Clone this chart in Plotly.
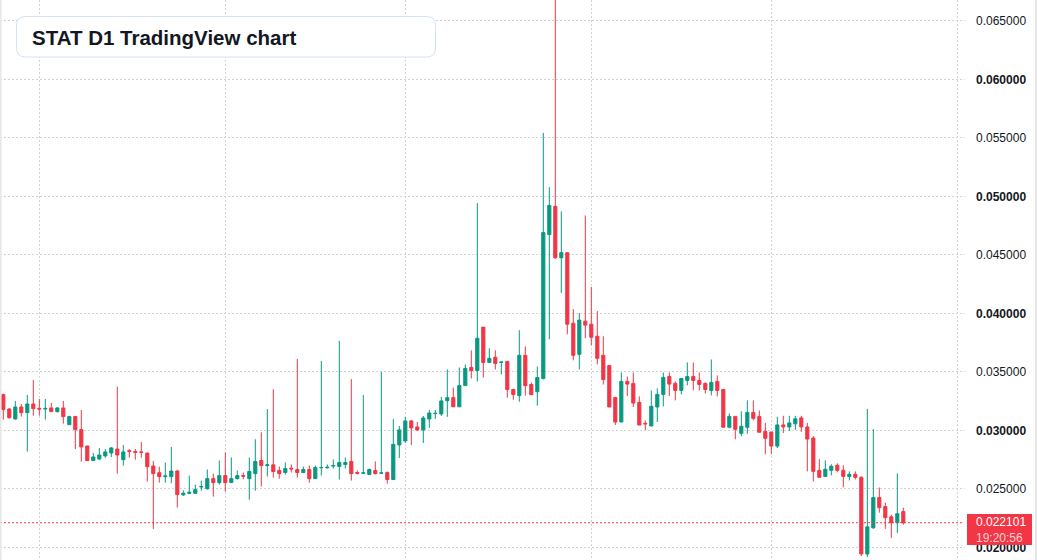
import pandas as pd
import plotly.graph_objects as go

# ---------------- data (price values) ----------------
start_date = "2024-07-26"
n_days = 151
dates = pd.date_range(start_date, periods=n_days, freq="D")

opens = [
    0.03305, 0.03182, 0.03097, 0.03199, 0.03151, 0.03225, 0.03188, 0.03182, 0.03191, 0.03160,
    0.03191, 0.03048, 0.03117, 0.03006, 0.02866, 0.02741, 0.02755, 0.02781, 0.02806, 0.02840,
    0.02749, 0.02826, 0.02818, 0.02815, 0.02806, 0.02695, 0.02638, 0.02604, 0.02604, 0.02652,
    0.02448, 0.02461, 0.02461, 0.02516, 0.02501, 0.02587, 0.02553, 0.02613, 0.02553, 0.02587,
    0.02613, 0.02587, 0.02630, 0.02742, 0.02699, 0.02705, 0.02656, 0.02639, 0.02676, 0.02665,
    0.02639, 0.02665, 0.02587, 0.02680, 0.02680, 0.02694, 0.02691, 0.02708, 0.02734, 0.02639,
    0.02633, 0.02622, 0.02656, 0.02633, 0.02639, 0.02579, 0.02875, 0.02909, 0.03080, 0.03028,
    0.03003, 0.03097, 0.03143, 0.03140, 0.03253, 0.03279, 0.03201, 0.03382, 0.03537, 0.03511,
    0.03882, 0.03580, 0.03624, 0.03580, 0.03589, 0.03348, 0.03296, 0.03641, 0.03391, 0.03330,
    0.03443, 0.04673, 0.04914, 0.04475, 0.04518, 0.03916, 0.03649, 0.03933, 0.03907, 0.03804,
    0.03641, 0.03554, 0.03281, 0.03071, 0.03418, 0.03401, 0.03239, 0.03060, 0.03037, 0.03199,
    0.03307, 0.03460, 0.03401, 0.03341, 0.03426, 0.03460, 0.03426, 0.03401, 0.03341, 0.03418,
    0.03349, 0.03026, 0.03119, 0.02974, 0.03026, 0.03153, 0.03119, 0.02991, 0.02986, 0.02865,
    0.03046, 0.03029, 0.03055, 0.03106, 0.03029, 0.02934, 0.02658, 0.02606, 0.02658, 0.02701,
    0.02658, 0.02606, 0.02624, 0.02598, 0.01943, 0.02167, 0.02425, 0.02348, 0.02261, 0.02210,
    0.02305,
]
highs = [
    0.03313, 0.03191, 0.03251, 0.03225, 0.03302, 0.03430, 0.03268, 0.03268, 0.03234, 0.03199,
    0.03251, 0.03125, 0.03125, 0.03174, 0.02866, 0.02806, 0.02849, 0.02840, 0.02858, 0.03373,
    0.02875, 0.02840, 0.02840, 0.02900, 0.02806, 0.02738, 0.02689, 0.02724, 0.02858, 0.02661,
    0.02487, 0.02613, 0.02536, 0.02570, 0.02665, 0.02630, 0.02742, 0.02811, 0.02768, 0.02656,
    0.02639, 0.02768, 0.02923, 0.02983, 0.03181, 0.03352, 0.02691, 0.02725, 0.02708, 0.03610,
    0.02691, 0.02699, 0.02699, 0.03593, 0.02708, 0.02751, 0.03765, 0.02768, 0.03438, 0.02656,
    0.03301, 0.02673, 0.02734, 0.03499, 0.02648, 0.03095, 0.03037, 0.03114, 0.03088, 0.03071,
    0.03123, 0.03174, 0.03174, 0.03285, 0.03520, 0.03365, 0.03537, 0.03563, 0.03684, 0.04943,
    0.03882, 0.03701, 0.03684, 0.03589, 0.03589, 0.03356, 0.03856, 0.03718, 0.03408, 0.03546,
    0.05542, 0.05077, 0.06800, 0.04871, 0.04518, 0.04036, 0.04002, 0.04836, 0.04226, 0.04019,
    0.03804, 0.03554, 0.03281, 0.03494, 0.03460, 0.03494, 0.03290, 0.03085, 0.03341, 0.03358,
    0.03494, 0.03494, 0.03418, 0.03443, 0.03580, 0.03580, 0.03494, 0.03409, 0.03605, 0.03469,
    0.03349, 0.03145, 0.03119, 0.03162, 0.03256, 0.03256, 0.03170, 0.03063, 0.02986, 0.03115,
    0.03124, 0.03124, 0.03124, 0.03124, 0.03063, 0.02951, 0.02753, 0.02744, 0.02710, 0.02718,
    0.02701, 0.02649, 0.02649, 0.02606, 0.03184, 0.03011, 0.02511, 0.02382, 0.02279, 0.02632,
    0.02339,
]
lows = [
    0.03091, 0.03100, 0.03091, 0.03117, 0.02818, 0.03125, 0.03125, 0.03091, 0.03158, 0.03151,
    0.03057, 0.03048, 0.02840, 0.02732, 0.02741, 0.02741, 0.02749, 0.02766, 0.02772, 0.02630,
    0.02698, 0.02766, 0.02749, 0.02766, 0.02561, 0.02157, 0.02553, 0.02553, 0.02547, 0.02339,
    0.02440, 0.02453, 0.02461, 0.02484, 0.02493, 0.02433, 0.02536, 0.02476, 0.02553, 0.02579,
    0.02582, 0.02407, 0.02484, 0.02519, 0.02605, 0.02596, 0.02587, 0.02622, 0.02639, 0.02596,
    0.02639, 0.02553, 0.02587, 0.02613, 0.02673, 0.02673, 0.02579, 0.02673, 0.02570, 0.02622,
    0.02630, 0.02622, 0.02622, 0.02630, 0.02544, 0.02579, 0.02764, 0.02892, 0.02875, 0.02994,
    0.02892, 0.03020, 0.03097, 0.03123, 0.03115, 0.03201, 0.03201, 0.03382, 0.03443, 0.03417,
    0.03451, 0.03580, 0.03520, 0.03477, 0.03279, 0.03261, 0.03244, 0.03296, 0.03305, 0.03210,
    0.03434, 0.03778, 0.04466, 0.04174, 0.03821, 0.03598, 0.03520, 0.03787, 0.03727, 0.03563,
    0.03391, 0.03199, 0.03045, 0.03071, 0.03293, 0.03199, 0.03045, 0.03003, 0.03037, 0.03071,
    0.03205, 0.03293, 0.03256, 0.03307, 0.03384, 0.03341, 0.03341, 0.03315, 0.03298, 0.03290,
    0.03026, 0.03017, 0.02923, 0.02949, 0.02970, 0.03085, 0.02983, 0.02796, 0.02796, 0.02848,
    0.02977, 0.02994, 0.03003, 0.02986, 0.02649, 0.02563, 0.02598, 0.02606, 0.02615, 0.02641,
    0.02512, 0.02572, 0.02580, 0.01925, 0.01917, 0.02158, 0.02296, 0.02158, 0.02080, 0.02124,
    0.02193,
]
closes = [
    0.03177, 0.03108, 0.03199, 0.03151, 0.03225, 0.03185, 0.03182, 0.03187, 0.03160, 0.03191,
    0.03117, 0.03117, 0.03006, 0.02858, 0.02741, 0.02772, 0.02789, 0.02815, 0.02849, 0.02789,
    0.02815, 0.02820, 0.02812, 0.02812, 0.02689, 0.02630, 0.02604, 0.02610, 0.02652, 0.02450,
    0.02462, 0.02470, 0.02493, 0.02519, 0.02587, 0.02553, 0.02613, 0.02553, 0.02587, 0.02613,
    0.02608, 0.02648, 0.02734, 0.02699, 0.02705, 0.02648, 0.02630, 0.02673, 0.02670, 0.02639,
    0.02665, 0.02587, 0.02682, 0.02682, 0.02684, 0.02699, 0.02725, 0.02725, 0.02630, 0.02633,
    0.02636, 0.02665, 0.02630, 0.02636, 0.02579, 0.02880, 0.03003, 0.03080, 0.03020, 0.03003,
    0.03105, 0.03148, 0.03145, 0.03251, 0.03279, 0.03201, 0.03382, 0.03529, 0.03511, 0.03787,
    0.03580, 0.03615, 0.03572, 0.03583, 0.03348, 0.03305, 0.03641, 0.03382, 0.03305, 0.03451,
    0.04690, 0.04922, 0.04475, 0.04518, 0.03907, 0.03641, 0.03942, 0.03899, 0.03795, 0.03615,
    0.03434, 0.03199, 0.03071, 0.03418, 0.03395, 0.03233, 0.03045, 0.03055, 0.03205, 0.03307,
    0.03452, 0.03395, 0.03341, 0.03443, 0.03460, 0.03426, 0.03392, 0.03349, 0.03409, 0.03341,
    0.03026, 0.03119, 0.03009, 0.03034, 0.03153, 0.03102, 0.02983, 0.02932, 0.02865, 0.03046,
    0.03029, 0.03063, 0.03098, 0.03029, 0.02925, 0.02649, 0.02598, 0.02667, 0.02693, 0.02658,
    0.02606, 0.02624, 0.02598, 0.01943, 0.02175, 0.02425, 0.02339, 0.02253, 0.02210, 0.02287,
    0.022101,
]

last_price = 0.022101
countdown = "19:20:56"
title_text = "STAT D1 TradingView chart"
y_tick_values = [0.020, 0.025, 0.030, 0.035, 0.040, 0.045, 0.050, 0.055, 0.060, 0.065]
y_tick_labels = ["<b>0.020000</b>", "0.025000", "<b>0.030000</b>", "0.035000", "<b>0.040000</b>",
                 "0.045000", "<b>0.050000</b>", "0.055000", "<b>0.060000</b>", "0.065000"]

# ---------------- layout geometry ----------------
W, H = 1037, 560
PLOT_W = 965  # pixel width of plotting area
GREEN = "#089981"
RED = "#F23645"
TEXT = "#131722"
GRID = "#d4d4d4"
FONT = "Liberation Sans, Arial, sans-serif"


def px(x):
    return x / PLOT_W


def py(y):
    return 1 - y / H


fig = go.Figure()
fig.add_trace(go.Candlestick(
    x=dates, open=opens, high=highs, low=lows, close=closes,
    increasing=dict(line=dict(color=GREEN, width=1), fillcolor=GREEN),
    decreasing=dict(line=dict(color=RED, width=1), fillcolor=RED),
    whiskerwidth=0, hoverinfo="skip", showlegend=False,
))

x0 = dates[0] - pd.Timedelta(hours=0.55 * 24)
x1 = dates[0] + pd.Timedelta(hours=160.28 * 24)

shapes = []
# price line
shapes.append(dict(type="line", xref="paper", yref="y", x0=0, x1=px(963), y0=last_price, y1=last_price,
                   line=dict(color=RED, width=1, dash="2px,2px"), layer="above"))


def rounded_rect(xa, ya, xb, yb, r):
    # in pixels -> paper
    pts = [
        f"M {px(xa + r)} {py(ya)}",
        f"L {px(xb - r)} {py(ya)}",
        f"Q {px(xb)} {py(ya)} {px(xb)} {py(ya + r)}",
        f"L {px(xb)} {py(yb - r)}",
        f"Q {px(xb)} {py(yb)} {px(xb - r)} {py(yb)}",
        f"L {px(xa + r)} {py(yb)}",
        f"Q {px(xa)} {py(yb)} {px(xa)} {py(yb - r)}",
        f"L {px(xa)} {py(ya + r)}",
        f"Q {px(xa)} {py(ya)} {px(xa + r)} {py(ya)}",
        "Z",
    ]
    return " ".join(pts)


shapes.append(dict(type="path", xref="paper", yref="paper", path=rounded_rect(16.5, 16.5, 435.5, 57, 9),
                   fillcolor="white", line=dict(color="#d3e1f5", width=1), layer="above"))
# price label box
shapes.append(dict(type="rect", xref="paper", yref="paper", x0=px(967), x1=px(1032), y0=py(545), y1=py(514),
                   fillcolor=RED, line=dict(width=0), layer="above"))
# frame edges
shapes.append(dict(type="rect", xref="paper", yref="paper", x0=px(0), x1=px(1.5), y0=0, y1=1,
                   fillcolor="#e6e6e6", line=dict(width=0), layer="above"))
shapes.append(dict(type="rect", xref="paper", yref="paper", x0=px(1035), x1=px(1037), y0=0, y1=1,
                   fillcolor="#e6e6e6", line=dict(width=0), layer="above"))

annotations = [
    dict(xref="paper", yref="paper", x=px(30), y=py(37.5), xanchor="left", yanchor="middle",
         text=f"<b>{title_text}</b>", showarrow=False,
         font=dict(family=FONT, size=20.5, color=TEXT)),
    dict(xref="paper", yref="paper", x=px(974), y=py(529.5), xanchor="left", yanchor="middle",
         text=f"{last_price:.6f}<br><span style='color:#ffd0d4'>{countdown}</span>", showarrow=False,
         align="left",
         font=dict(family=FONT, size=12, color="white")),
]

fig.update_layout(
    width=W, height=H,
    margin=dict(l=0, r=W - PLOT_W, t=0, b=0),
    paper_bgcolor="white", plot_bgcolor="white",
    showlegend=False,
    shapes=shapes, annotations=annotations,
    boxgap=0.25,
    hovermode=False,
    font=dict(family=FONT, size=12, color=TEXT),
    xaxis=dict(type="date", range=[x0, x1], rangeslider=dict(visible=False),
               showgrid=True, gridcolor=GRID, griddash="2px,2px", gridwidth=1,
               dtick="M1", tick0="2024-08-01", showticklabels=False, ticks="",
               zeroline=False, showline=False),
    yaxis=dict(side="right", range=[0.018915, 0.066778],
               tickmode="array", tickvals=y_tick_values, ticktext=y_tick_labels,
               showgrid=True, gridcolor=GRID, griddash="2px,2px", gridwidth=1,
               ticks="", ticklabelstandoff=10, automargin=False,
               zeroline=False, showline=False,
               tickfont=dict(family=FONT, size=12, color=TEXT)),
)

fig.write_html("out.html", config={"displayModeBar": False})
